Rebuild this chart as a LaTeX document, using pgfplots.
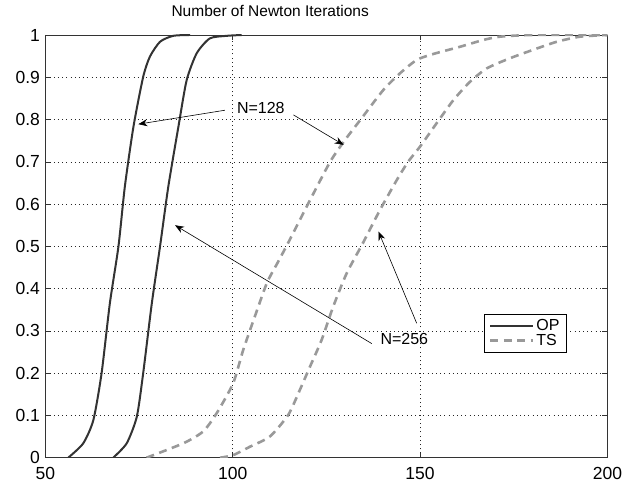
\documentclass[border=0pt]{standalone}
\usepackage{fontspec}
\setmainfont{Liberation Sans}
\usepackage{pgfplots}
\pgfplotsset{compat=1.18}
\usetikzlibrary{arrows.meta}
\definecolor{opc}{HTML}{333333}
\definecolor{tsc}{HTML}{999999}
\begin{document}
\fontsize{16}{18}\selectfont
\begin{tikzpicture}
\begin{axis}[
  scale only axis, width=562pt, height=422.7pt,
  xmin=50, xmax=200, ymin=0, ymax=1,
  xtick={50,100,150,200},
  ytick={0,0.1,0.2,0.3,0.4,0.5,0.6,0.7,0.8,0.9,1},
  yticklabels={0,0.1,0.2,0.3,0.4,0.5,0.6,0.7,0.8,0.9,1},
  /pgf/number format/assume math mode=true,
  tick align=inside, major tick length=5pt,
  xtick pos=both, ytick pos=both,
  grid=major, major grid style={black!85, dash pattern=on 1pt off 3.2pt, line width=0.6pt},
  axis line style={line width=0.9pt, black!80},
  every tick/.style={black!80, line width=0.6pt},
  tick label style={font=\fontsize{17.5}{19}\selectfont},
  xticklabel style={yshift=-4pt},
  title={Number of Newton Iterations},
  title style={font=\fontsize{15.5}{17}\selectfont, at={(rel axis cs:0.4,1)}, anchor=base, yshift=12pt, inner sep=0pt},
  legend style={at={(rel axis cs:0.928,0.34)}, anchor=north east, draw=black, line width=0.8pt,
    font=\fontsize{16}{17}\selectfont, inner xsep=5pt, inner ysep=3pt, row sep=-3pt},
  legend cell align=left,
  legend image code/.code={\draw[#1] (0cm,0cm) -- (1.5cm,0cm);},
]
\addplot[opc, line width=2pt, smooth, tension=0.4] coordinates {
(56.1,0) (60.1,0.034) (62.8,0.089) (65.0,0.2) (67.2,0.365) (69.5,0.5) (71.2,0.641)
(73.5,0.783) (76.1,0.901) (77.9,0.949) (80.6,0.984) (84.1,0.998) (88.6,1)
};
\addlegendentry{OP}
\addplot[tsc, line width=2.6pt, dash pattern=on 8pt off 5.5pt, smooth, tension=0.4] coordinates {
(77,0) (86.8,0.034) (92.1,0.062) (95.7,0.105) (100.1,0.176) (102.8,0.255) (105.9,0.334)
(109.1,0.413) (111.9,0.46) (114.6,0.505) (120.2,0.602) (126.0,0.700) (130.0,0.752)
(134.4,0.803) (140.2,0.870) (144.6,0.909) (149.1,0.941) (153.5,0.955) (160.6,0.972)
(166.8,0.988) (171.3,0.996) (180,1) (200,1)
};
\addlegendentry{TS}
\addplot[opc, line width=2pt, smooth, tension=0.4, forget plot] coordinates {
(68.1,0) (71.7,0.034) (74.4,0.097) (76.1,0.2) (78.4,0.365) (80.6,0.5) (82.8,0.641)
(85.5,0.783) (87.7,0.893) (90.4,0.957) (93.9,0.992) (98.4,0.998) (102.4,1)
};
\addplot[tsc, line width=2.6pt, dash pattern=on 8pt off 5.5pt, smooth, tension=0.4, forget plot] coordinates {
(96.6,0) (100.1,0.006) (104.6,0.026) (109.9,0.05) (114.8,0.101) (117.9,0.16) (120.6,0.215)
(123.7,0.278) (126.8,0.357) (130.4,0.436) (134.7,0.507) (139.3,0.586) (143.8,0.657)
(146.8,0.700) (150,0.736) (154.4,0.791) (158.9,0.846) (163.3,0.889) (167.8,0.921)
(174.0,0.945) (180.2,0.965) (186.5,0.984) (192.7,0.996) (200,1)
};
\node[font=\fontsize{16}{18}\selectfont, inner sep=1pt] at (axis cs:107.5,0.827) {N=128};
\node[font=\fontsize{16}{18}\selectfont, inner sep=1pt] at (axis cs:145.8,0.28) {N=256};
\draw[-{Stealth[length=9pt,width=7pt]}, line width=0.6pt] (axis cs:97.9,0.822) -- (axis cs:74.8,0.789);
\draw[-{Stealth[length=9pt,width=7pt]}, line width=0.6pt] (axis cs:116.2,0.811) -- (axis cs:129.6,0.740);
\draw[-{Stealth[length=9pt,width=7pt]}, line width=0.6pt] (axis cs:137.1,0.27) -- (axis cs:84.6,0.55);
\draw[-{Stealth[length=9pt,width=7pt]}, line width=0.6pt] (axis cs:149.1,0.318) -- (axis cs:138.9,0.535);
\end{axis}
\path (-45.4pt,-23.3pt) rectangle (595.6pt,457.7pt);
\end{tikzpicture}
\end{document}
